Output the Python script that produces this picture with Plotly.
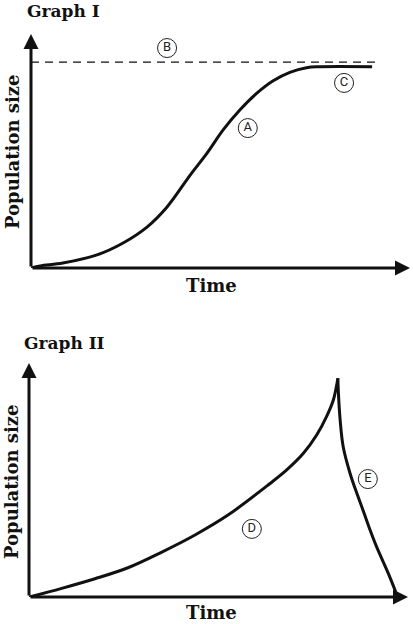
import plotly.graph_objects as go

# Graph I: logistic growth (time / population in arbitrary units, axes 0..10)
time_1 = [0, 0.24, 0.84, 1.74, 2.43, 3.06, 3.59, 4.20, 4.64, 5.07, 5.51, 5.96, 6.39, 6.83, 7.27, 7.63, 9.0]
pop_1 = [0, 0.09, 0.21, 0.56, 1.07, 1.75, 2.61, 3.97, 4.90, 5.90, 6.75, 7.47, 8.00, 8.36, 8.56, 8.60, 8.60]
carrying_capacity = 8.8
capacity_span = [0, 9.2]

# Graph II: exponential growth then crash
time_2 = [0, 0.84, 1.74, 2.61, 3.48, 4.38, 5.25, 6.36, 6.80, 7.24, 7.59, 7.85, 8.03, 8.15]
pop_2 = [0, 0.36, 0.78, 1.25, 1.90, 2.65, 3.50, 4.85, 5.43, 6.14, 6.92, 7.71, 8.42, 9.35]
time_crash = [8.15, 8.16, 8.21, 8.29, 8.47, 8.65, 8.78, 8.97, 9.17, 9.48, 9.68]
pop_crash = [9.35, 8.85, 7.56, 6.42, 5.29, 4.43, 3.86, 2.99, 2.15, 1.01, 0.20]

labels_1 = ["A", "B", "C"]
labels_1_x = [5.72, 3.59, 8.26]
labels_1_y = [5.98, 9.40, 7.91]
labels_2 = ["D", "E"]
labels_2_x = [5.88, 8.94]
labels_2_y = [2.91, 5.04]

W, H = 413, 624
serif = "DejaVu Serif"
ink = "#111111"

fig = go.Figure()

curve = dict(color=ink, width=3, shape="spline", smoothing=1)
fig.add_trace(go.Scatter(x=time_1, y=pop_1, mode="lines", line=curve,
                         xaxis="x", yaxis="y", cliponaxis=False))
fig.add_trace(go.Scatter(x=capacity_span, y=[carrying_capacity] * 2, mode="lines",
                         line=dict(color=ink, width=1.3, dash="8px,6px"), xaxis="x", yaxis="y"))
fig.add_trace(go.Scatter(x=time_2, y=pop_2, mode="lines", line=curve,
                         xaxis="x2", yaxis="y2", cliponaxis=False))
fig.add_trace(go.Scatter(x=time_crash, y=pop_crash, mode="lines", line=curve,
                         xaxis="x2", yaxis="y2", cliponaxis=False))

for lx, ly, lt, xa, ya in [(labels_1_x, labels_1_y, labels_1, "x", "y"),
                           (labels_2_x, labels_2_y, labels_2, "x2", "y2")]:
    fig.add_trace(go.Scatter(x=lx, y=ly, text=lt, mode="markers+text", textposition="middle center",
                             marker=dict(symbol="circle-open", size=19, color="#222", line=dict(width=1)),
                             textfont=dict(family="Liberation Sans Narrow, Roboto", size=13, color="#222"),
                             xaxis=xa, yaxis=ya, cliponaxis=False))

ann = []
# axis arrows
for xa, ya in [("x", "y"), ("x2", "y2")]:
    for tip in [(10, 0), (0, 10)]:
        ann.append(dict(x=tip[0], y=tip[1], ax=0, ay=0, xref=xa, yref=ya, axref=xa, ayref=ya,
                        text="", showarrow=True, arrowhead=2, arrowsize=1, arrowwidth=3,
                        arrowcolor=ink, standoff=0))


def txt(x, y, s, size, xanchor="center", angle=0):
    ann.append(dict(x=x / W, y=1 - y / H, xref="paper", yref="paper", text="<b>" + s + "</b>",
                    showarrow=False, xanchor=xanchor, yanchor="middle", textangle=angle,
                    font=dict(family=serif, size=size, color=ink)))


txt(25, 11, "Graph I", 17, xanchor="left")
txt(22, 343, "Graph II", 17, xanchor="left")
txt(211, 286, "Time", 18)
txt(211, 612, "Time", 18)
txt(12, 152, "Population size", 18, angle=-90)
txt(11, 482, "Population size", 18, angle=-90)

hidden = dict(visible=False, range=[0, 10], fixedrange=True)
fig.update_layout(
    width=W, height=H, margin=dict(l=0, r=0, t=0, b=0),
    paper_bgcolor="white", plot_bgcolor="white", showlegend=False,
    xaxis=dict(hidden, domain=[31 / W, 410 / W]),
    yaxis=dict(hidden, domain=[1 - 268 / H, 1 - 34 / H]),
    xaxis2=dict(hidden, domain=[29 / W, 408 / W]),
    yaxis2=dict(hidden, domain=[1 - 597 / H, 1 - 363 / H]),
    annotations=ann,
)

# drop the default page margin so the figure fills the window
fig.write_html("out.html", config={"displayModeBar": False},
               post_script="document.body.style.margin = '0';")
